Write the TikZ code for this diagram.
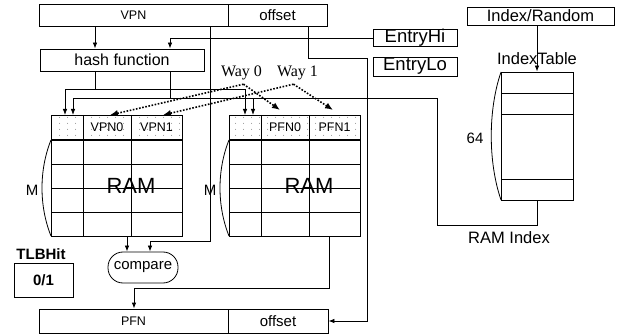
\documentclass[tikz,border=0pt]{standalone}
\usepackage{fontspec}
\setmainfont{Liberation Sans}
\newfontfamily\wayfont{Liberation Serif}
\usetikzlibrary{arrows.meta,patterns.meta}
\tikzdeclarepattern{
  name=sparsedots,
  type=uncolored,
  bounding box={(0pt,0pt) and (8pt,6pt)},
  tile size={(8pt,6pt)},
  code={\fill (4pt,3pt) circle [radius=0.5pt];}
}
\begin{document}
\begin{tikzpicture}[
	x=1pt, y=-1pt, line width=0.8pt,
	box/.style = {draw, inner sep=0pt},
	arr/.style = {-{Latex[length=6pt,width=4.5pt]}},
	wayarr/.style = {line width=1.6pt, dash pattern=on 1.6pt off 1.6pt, -{Latex[length=8pt,width=6.5pt]}},
	fsmall/.style = {font=\fontsize{12.5}{14}\selectfont},
	fmid/.style = {font=\fontsize{15}{18}\selectfont},
	flarge/.style = {font=\fontsize{16.5}{19}\selectfont},
	fentry/.style = {font=\fontsize{18.5}{21}\selectfont},
	]
	\useasboundingbox (0,0) rectangle (620,336);
	% virtual address
	\node[box, minimum width=189pt, minimum height=22pt, fsmall] (vpn) at (133.5,15.5) {VPN};
	\node[box, minimum width=99pt, minimum height=22pt, fmid] (voff) at (277.5,15.5) {offset};
	\node[box, minimum width=164pt, minimum height=22pt, font=\fontsize{16}{18}\selectfont] (hash) at (122,60) {hash function};
	\node[box, minimum width=84pt, minimum height=17pt, fentry] (ehi) at (415,38) {EntryHi};
	\node[box, minimum width=84pt, minimum height=19pt, fentry] (elo) at (415,66.5) {EntryLo};
	\node[box, minimum width=147pt, minimum height=18pt, flarge] (idx) at (540.5,16) {Index/Random};
	% index table
	\node[draw, minimum width=72pt, minimum height=128pt] (itab) at (537,136) {};
	\node[flarge] (itablbl) at (537,59) {IndexTable};
	\foreach \r in {93,114,179}
		\draw (501,\r) -- (573,\r);
	\draw (501,72) .. controls (488,110) and (488,162) .. (501,200);
	\node[fmid] (n64) at (475,138) {64};
	\node[flarge] (ridxlbl) at (509,238) {RAM Index};
	% the two RAMs
	\foreach \x/\n/\a/\b in {51/vram/VPN0/VPN1, 229/pram/PFN0/PFN1} {
		\fill[pattern=sparsedots, pattern color=black!55] (\x,115) rectangle ++(131,25);
		\node[draw, minimum width=131pt, minimum height=121pt, anchor=north west] (\n) at (\x,115) {};
		\foreach \r in {164,188,212}
			\draw (\x,\r) -- ++(131,0);
		\draw[line width=1.2pt] (\x,140) -- ++(131,0);
		\draw (\x+32,115) -- ++(0,121);
		\draw (\x+80,115) -- ++(0,121);
		\node[fsmall] at (\x+56,127.5) {\a};
		\node[fsmall] at (\x+105.5,127.5) {\b};
		\node[font=\fontsize{22}{24}\selectfont] at (\x+80,186) {RAM};
		\draw (\x,140) .. controls (\x-12,170) and (\x-12,206) .. (\x,236);
		\node[fmid] at (\x-19,190) {M};
	}
	% way select
	\node[font=\wayfont\fontsize{16}{18}\selectfont, anchor=base] (way0) at (241.5,77) {Way 0};
	\node[font=\wayfont\fontsize{16}{18}\selectfont, anchor=base] (way1) at (297.5,77) {Way 1};
	\draw[wayarr] ([xshift=2pt]way0.south) -- ([xshift=59pt]vram.north west);
	\draw[wayarr] ([xshift=2pt]way0.south) -- ([xshift=51pt,yshift=5pt]pram.north west);
	\draw[wayarr] ([xshift=-4pt]way1.south) -- ([xshift=112pt]vram.north west);
	\draw[wayarr] ([xshift=-4pt]way1.south) -- ([xshift=104pt,yshift=5pt]pram.north west);
	% compare and outputs
	\node[draw, rounded corners=15pt, minimum width=70pt, minimum height=31pt, inner sep=0pt, fmid] (compare) at (143,267.5) {compare};
	\node[font=\bfseries\fontsize{15}{18}\selectfont] (tlbhit) at (41,254) {TLBHit};
	\node[box, minimum width=59pt, minimum height=34pt, font=\bfseries\fontsize{15}{18}\selectfont] (hit) at (43.5,280) {0/1};
	\node[box, minimum width=189pt, minimum height=24pt, fsmall] (pfn) at (133.5,321) {PFN};
	\node[box, minimum width=100pt, minimum height=24pt, fmid] (poff) at (278,321) {offset};
	% wires
	\coordinate (xa) at (95,0);
	\coordinate (xc) at (210,0);
	\coordinate (busA) at (95,89);
	\coordinate (busB) at (170,98);
	\coordinate (cmpB) at (150,241);
	\coordinate (offB) at (367,58);
	\coordinate (ridx) at (437,225);
	\coordinate (pfnB) at (134,288);
	\coordinate (xd) at (308,0);
	\draw[arr] (vpn.south -| xa) -- (hash.north -| xa);
	\draw[arr] (ehi.west) -| (hash.north -| busB);
	\draw[arr] (vpn.south -| xc) |- (cmpB) -- (compare.north -| cmpB);
	\draw[arr] (voff.south -| xd) |- (offB) |- (poff.east);
	\draw (hash.south -| busA) -- (busA);
	\draw[arr] (busA) -| ([xshift=14pt]vram.north west);
	\draw[arr] (busA) -| ([xshift=16pt]pram.north west);
	\draw (hash.south -| busB) -- (busB);
	\draw[arr] (busB) -| ([xshift=22pt]vram.north west);
	\draw[arr] (busB) -| ([xshift=24pt]pram.north west);
	\draw (busB) -| (ridx) -| (itab.south);
	\draw[arr] (idx.south -| itab.north) -- (itab.north);
	\coordinate (cmpA) at ([xshift=76pt]vram.south west);
	\draw[arr] (cmpA) -- (compare.north -| cmpA);
	\draw[arr] ([xshift=100pt]pram.south west) |- (pfnB) -- (pfn.north -| pfnB);
\end{tikzpicture}
\end{document}
